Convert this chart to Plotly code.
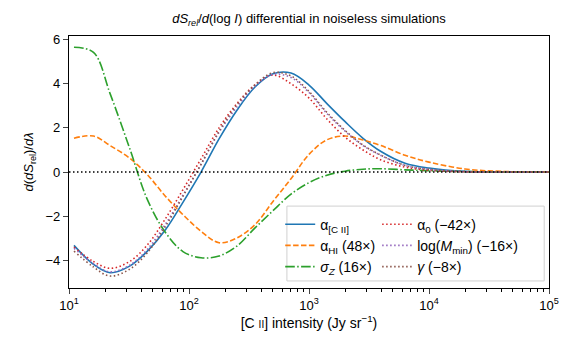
import plotly.graph_objects as go

# [CII] intensity grid (Jy/sr)
intensity = [11, 16, 22, 32, 45, 63, 89, 126, 178, 251, 355, 501, 708,
             1000, 1410, 2000, 2820, 3980, 6310, 10000, 20000, 40000, 100000]

# d(dS_rel)/d lambda for each parameter (already scaled as in the legend)
alpha_cii = [-3.32, -4.18, -4.56, -4.26, -3.58, -2.65, -1.37, 0.0, 1.5, 2.8, 3.85, 4.45, 4.48,
             3.94, 3.1, 2.28, 1.53, 0.93, 0.4, 0.18, 0.03, 0.0, 0.0]
alpha_hi = [1.53, 1.63, 1.2, 0.63, -0.12, -1.07, -1.93, -2.68, -3.2, -2.98, -2.38, -1.33, -0.3,
            0.8, 1.46, 1.63, 1.45, 1.2, 0.76, 0.45, 0.14, 0.03, 0.0]
sigma_z = [5.65, 5.42, 3.55, 1.08, -1.25, -2.7, -3.6, -3.88, -3.8, -3.35, -2.53, -1.75, -1.0,
           -0.48, -0.14, 0.04, 0.13, 0.15, 0.1, 0.06, 0.02, 0.0, 0.0]
alpha_0 = [-3.4, -4.05, -4.36, -4.05, -3.3, -2.15, -0.8, 0.6, 2.0, 3.1, 3.95, 4.39, 4.0,
           3.35, 2.4, 1.58, 1.0, 0.55, 0.22, 0.08, 0.01, 0.0, 0.0]
log_mmin = [-3.45, -4.15, -4.52, -4.22, -3.5, -2.4, -1.05, 0.35, 1.8, 2.95, 3.9, 4.42, 4.28,
            3.6, 2.65, 1.85, 1.2, 0.75, 0.3, 0.12, 0.02, 0.0, 0.0]
gamma = [-3.58, -4.3, -4.71, -4.4, -3.65, -2.5, -1.1, 0.35, 1.85, 3.05, 3.95, 4.5, 4.35,
         3.65, 2.7, 1.88, 1.22, 0.76, 0.3, 0.12, 0.02, 0.0, 0.0]

# matplotlib-like dash patterns (scaled by linewidth 1.5)
DASH = "5.5px,2.4px"
DASHDOT = "9.6px,2.4px,1.5px,2.4px"
DOT = "1.5px,2.5px"

series = [
    ("α<sub>[C II]</sub>", alpha_cii, "#1f77b4", "solid", "legend"),
    ("α<sub>HI</sub> (48×)", alpha_hi, "#ff7f0e", DASH, "legend"),
    ("<i>σ<sub>Z</sub></i> (16×)", sigma_z, "#2ca02c", DASHDOT, "legend"),
    ("α<sub>0</sub> (−42×)", alpha_0, "#d62728", DOT, "legend2"),
    ("log(<i>M</i><sub>min</sub>) (−16×)", log_mmin, "#9467bd", DOT, "legend2"),
    ("<i>γ</i> (−8×)", gamma, "#8c564b", DOT, "legend2"),
]

fig = go.Figure()
for i, (name, vals, color, dash, leg) in enumerate(series):
    fig.add_trace(go.Scatter(
        x=intensity, y=vals, name=name, mode="lines", legend=leg, legendgroup=str(i),
        line=dict(color=color, dash=dash, width=1.6, shape="spline", smoothing=1.0),
    ))

fig.add_hline(y=0, line=dict(color="black", dash="1.5px,2.5px", width=1.5))

# legend frame (matplotlib style box around both columns)
fig.add_shape(type="rect", xref="paper", yref="paper", x0=0.454, x1=0.99, y0=0.028, y1=0.325,
              line=dict(color="#d0d0d0", width=1), fillcolor="rgba(255,255,255,0.8)", layer="above")

major = [10, 100, 1000, 10000, 100000]
minor = [m * 10 ** e for e in range(1, 5) for m in range(2, 10)]

leg_common = dict(orientation="v", yanchor="top", y=0.315, bgcolor="rgba(0,0,0,0)",
                  borderwidth=0, font=dict(size=14), itemwidth=30, tracegroupgap=0)

# page body adds an 8px offset, so the figure is 8px smaller than the window
fig.update_layout(
    width=569, height=346,
    margin=dict(l=61, r=28, t=28, b=66),
    paper_bgcolor="white", plot_bgcolor="white",
    font=dict(family="Liberation Sans, Arial, sans-serif", size=12, color="black"),
    title=dict(text="<i>dS</i><sub><i>rel</i></sub>/<i>d</i>(log <i>I</i>) differential in noiseless simulations",
               x=0.5, xref="paper", xanchor="center", y=0.97, yanchor="middle",
               font=dict(size=13)),
    showlegend=True,
    legend=dict(x=0.44, xanchor="left", **leg_common),
    legend2=dict(x=0.642, xanchor="left", **leg_common),
)
fig.update_xaxes(
    type="log", range=[1, 5], tickvals=major,
    ticktext=["10<sup>%d</sup>" % i for i in range(1, 6)],
    ticks="outside", ticklen=5, tickwidth=1, showline=True, mirror=True,
    linecolor="black", linewidth=1.2, showgrid=False, zeroline=False, automargin=False,
    minor=dict(tickvals=minor, ticks="outside", ticklen=3, tickwidth=0.8, tickcolor="black"),
    tickfont=dict(size=13),
    title=dict(text="[C <span style='font-size:10px'>II</span>] intensity (Jy sr<sup>−1</sup>)",
               font=dict(size=14), standoff=4),
)
fig.update_yaxes(
    range=[-5.25, 6.16], tickvals=[-4, -2, 0, 2, 4, 6],
    ticks="outside", ticklen=5, tickwidth=1, showline=True, mirror=True,
    linecolor="black", linewidth=1.2, showgrid=False, zeroline=False, automargin=False,
    tickfont=dict(size=13),
    title=dict(text="<i>d</i>(<i>dS</i><sub>rel</sub>)/<i>dλ</i>", font=dict(size=13), standoff=8),
)

fig.write_html("out.html")
